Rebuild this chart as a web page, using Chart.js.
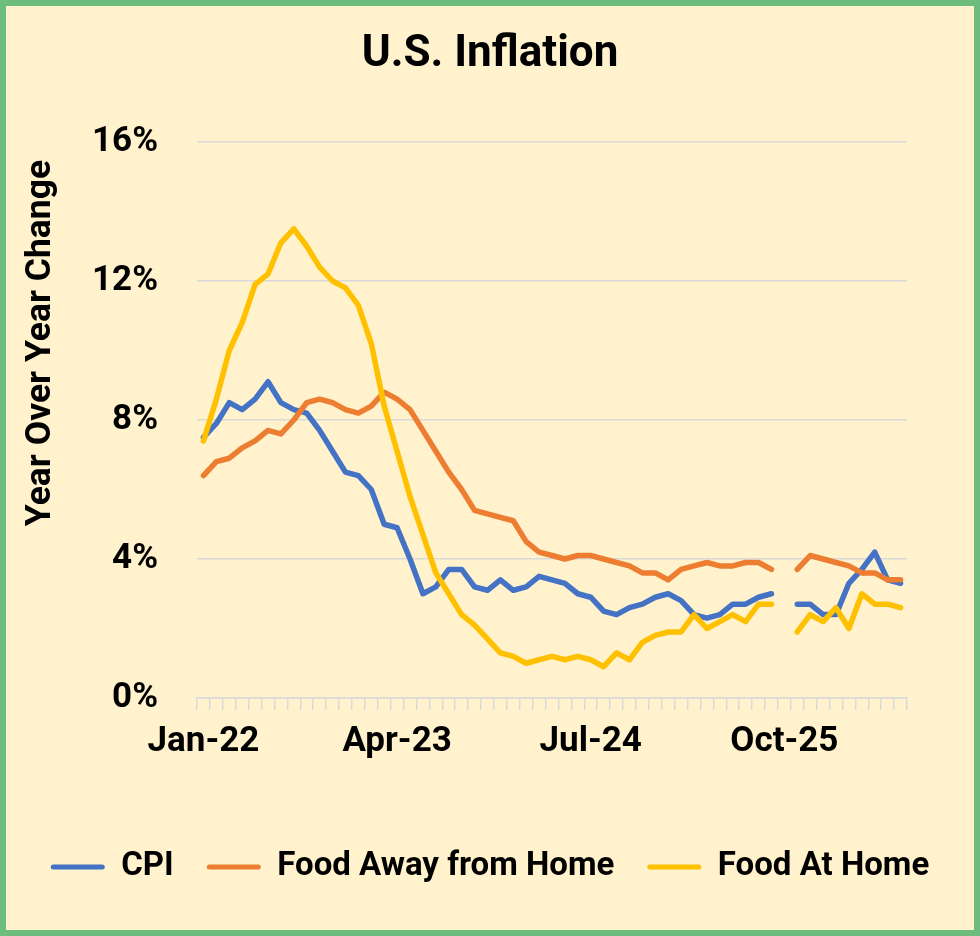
<!DOCTYPE html>
<html lang="en">
<head>
<meta charset="UTF-8">
<title>U.S. Inflation</title>
<style>
  html, body { margin: 0; padding: 0; background: #fff2cc; }
  .frame {
    box-sizing: border-box;
    width: 980px;
    height: 936px;
    border: 6px solid #6dbe7e;
    background: #fff2cc;
  }
  .frame canvas { display: block; }
</style>
</head>
<body>
<div class="frame">
  <canvas id="inflationChart" width="968" height="924" style="width:968px;height:924px"></canvas>
</div>

<script src="https://cdn.jsdelivr.net/npm/chart.js"></script>
<script>
// months, Jan-22 .. Jul-26 (Oct-25 has no release)
const months = [
  'Jan-22','Feb-22','Mar-22','Apr-22','May-22','Jun-22','Jul-22','Aug-22','Sep-22','Oct-22','Nov-22','Dec-22',
  'Jan-23','Feb-23','Mar-23','Apr-23','May-23','Jun-23','Jul-23','Aug-23','Sep-23','Oct-23','Nov-23','Dec-23',
  'Jan-24','Feb-24','Mar-24','Apr-24','May-24','Jun-24','Jul-24','Aug-24','Sep-24','Oct-24','Nov-24','Dec-24',
  'Jan-25','Feb-25','Mar-25','Apr-25','May-25','Jun-25','Jul-25','Aug-25','Sep-25','Oct-25','Nov-25','Dec-25',
  'Jan-26','Feb-26','Mar-26','Apr-26','May-26','Jun-26','Jul-26'
];

const cpi = [
  7.5, 7.9, 8.5, 8.3, 8.6, 9.1, 8.5, 8.3, 8.2, 7.7, 7.1, 6.5,
  6.4, 6.0, 5.0, 4.9, 4.0, 3.0, 3.2, 3.7, 3.7, 3.2, 3.1, 3.4,
  3.1, 3.2, 3.5, 3.4, 3.3, 3.0, 2.9, 2.5, 2.4, 2.6, 2.7, 2.9,
  3.0, 2.8, 2.4, 2.3, 2.4, 2.7, 2.7, 2.9, 3.0, null, 2.7, 2.7,
  2.4, 2.4, 3.3, 3.7, 4.2, 3.4, 3.3
];

const foodAway = [
  6.4, 6.8, 6.9, 7.2, 7.4, 7.7, 7.6, 8.0, 8.5, 8.6, 8.5, 8.3,
  8.2, 8.4, 8.8, 8.6, 8.3, 7.7, 7.1, 6.5, 6.0, 5.4, 5.3, 5.2,
  5.1, 4.5, 4.2, 4.1, 4.0, 4.1, 4.1, 4.0, 3.9, 3.8, 3.6, 3.6,
  3.4, 3.7, 3.8, 3.9, 3.8, 3.8, 3.9, 3.9, 3.7, null, 3.7, 4.1,
  4.0, 3.9, 3.8, 3.6, 3.6, 3.4, 3.4
];

const foodHome = [
  7.4, 8.6, 10.0, 10.8, 11.9, 12.2, 13.1, 13.5, 13.0, 12.4, 12.0, 11.8,
  11.3, 10.2, 8.4, 7.1, 5.8, 4.7, 3.6, 3.0, 2.4, 2.1, 1.7, 1.3,
  1.2, 1.0, 1.1, 1.2, 1.1, 1.2, 1.1, 0.9, 1.3, 1.1, 1.6, 1.8,
  1.9, 1.9, 2.4, 2.0, 2.2, 2.4, 2.2, 2.7, 2.7, null, 1.9, 2.4,
  2.2, 2.6, 2.0, 3.0, 2.7, 2.7, 2.6
];

const yTicks = [0, 4, 8, 12, 16];

Chart.defaults.font.family = 'Roboto, "Liberation Sans", sans-serif';
Chart.defaults.font.weight = 'bold';
Chart.defaults.color = '#000';

// vertical axis title, sits a bit above the middle of the plot like the Excel original
const yTitle = {
  id: 'yTitle',
  afterDraw(chart) {
    const { ctx, chartArea } = chart;
    ctx.save();
    ctx.translate(chartArea.left - 156, chartArea.top + 201);
    ctx.rotate(-Math.PI / 2);
    ctx.font = 'bold 35.5px Roboto, sans-serif';
    ctx.fillStyle = '#000';
    ctx.textAlign = 'center';
    ctx.textBaseline = 'middle';
    ctx.fillText('Year Over Year Change', 0, 0);
    ctx.restore();
  }
};

const line = (label, data, color, order) => ({
  label: label,
  data: data,
  borderColor: color,
  backgroundColor: color,
  borderWidth: 5.5,
  pointRadius: 0,
  tension: 0,
  spanGaps: false,
  borderJoinStyle: 'round',
  borderCapStyle: 'round',
  order: order
});

new Chart(document.getElementById('inflationChart'), {
  type: 'line',
  data: {
    labels: months,
    datasets: [
      line('CPI', cpi, '#4472c4', 3),
      line('Food Away from Home', foodAway, '#ed7d31', 2),
      line('Food At Home', foodHome, '#ffc000', 1)
    ]
  },
  options: {
    responsive: false,
    animation: false,
    layout: { padding: { left: 0, right: 0, top: 0, bottom: 36.5 } },
    plugins: {
      title: {
        display: true,
        text: 'U.S. Inflation',
        font: { size: 44, weight: 'bold' },
        padding: { top: 23, bottom: 60.2 }
      },
      legend: {
        position: 'bottom',
        labels: {
          font: { size: 33, weight: 'bold' },
          boxWidth: 54,
          boxHeight: 5,
          padding: 33,
          useBorderRadius: true,
          borderRadius: 2.5,
          sort: (a, b) => a.datasetIndex - b.datasetIndex,
          generateLabels(chart) {
            const items = Chart.defaults.plugins.legend.labels.generateLabels(chart);
            items.forEach(it => { it.lineWidth = 0; it.fillStyle = it.strokeStyle; });
            return items;
          }
        }
      },
      tooltip: { enabled: false }
    },
    scales: {
      x: {
        offset: true,
        afterFit(s) { s.height = 119.5; },
        grid: {
          offset: true,
          drawOnChartArea: false,
          drawTicks: true,
          tickLength: 12,
          color: '#d9d9d9',
          lineWidth: 1.5
        },
        border: { display: true, color: '#d9d9d9', width: 1.5 },
        ticks: {
          autoSkip: false,
          maxRotation: 0,
          minRotation: 0,
          padding: 11,
          font: { size: 35, weight: 'bold' },
          callback(value, index) {
            return index % 15 === 0 ? this.getLabelForValue(value) : '';
          }
        }
      },
      y: {
        min: yTicks[0],
        max: yTicks[yTicks.length - 1],
        afterFit(s) { s.width = 191; },
        afterBuildTicks(s) { s.ticks = yTicks.map(v => ({ value: v })); },
        grid: { color: '#d9d9d9', lineWidth: 1.5, drawTicks: false },
        border: { display: false },
        ticks: {
          padding: 39,
          font: { size: 35, weight: 'bold' },
          callback: v => v + '%'
        }
      },
      // empty right-hand strip so the plot stops short of the frame
      yRight: {
        position: 'right',
        afterFit(s) { s.width = 67; },
        grid: { display: false },
        border: { display: false },
        ticks: { display: false }
      }
    }
  },
  plugins: [yTitle]
});
</script>
</body>
</html>
